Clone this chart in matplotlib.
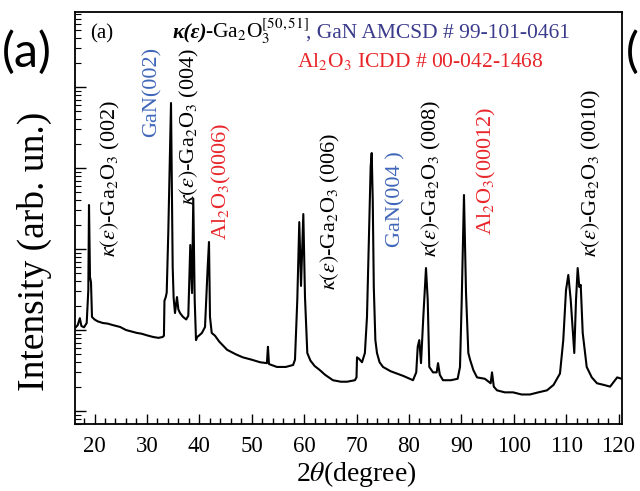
import numpy as np
import matplotlib
matplotlib.use('Agg')
import matplotlib.pyplot as plt
from matplotlib.ticker import MultipleLocator, NullFormatter, LogLocator
from matplotlib.transforms import blended_transform_factory
from matplotlib.offsetbox import TextArea, HPacker, AnnotationBbox

plt.rcParams['font.family'] = ['Liberation Serif', 'DejaVu Serif']
plt.rcParams['mathtext.fontset'] = 'stix'

# XRD scan: 2theta (deg) and intensity (counts, log axis)
two_theta = [16.3, 16.8, 17.2, 17.5, 18.0, 18.51, 18.82, 18.95, 19.05, 19.14, 19.33, 19.52,
             20.0, 20.6, 21.6, 22.5, 23.5, 24.9, 26.0, 27.0, 28.1, 29.0, 30.0, 31.2, 32.2,
             33.0, 33.25, 33.35, 33.6, 33.78, 34.08, 34.41, 34.6, 34.75, 34.92, 35.1, 35.36,
             35.74, 36.0, 36.32, 36.9, 37.5, 37.9, 38.28, 38.61, 38.85, 39.12, 39.37, 39.6,
             40.0, 40.5, 41.09, 41.6, 41.85, 42.04, 42.37, 43.0, 43.8, 45.3, 47.0, 48.3, 50.0,
             51.6, 52.9, 53.1, 53.3, 54.8, 56.5, 57.9, 58.26, 58.7, 59.08, 59.41, 59.85, 60.17,
             60.61, 61.2, 62.0, 63.0, 64.0, 65.5, 67.0, 68.2, 69.7, 70.0, 70.1, 70.5, 71.05,
             71.6, 72.0, 72.4, 72.7, 72.9, 73.1, 73.3, 73.6, 73.91, 74.4, 75.06, 76.5, 77.73,
             79.0, 80.78, 81.4, 81.68, 81.98, 82.31, 82.75, 83.26, 83.59, 83.89, 84.6, 85.3,
             85.56, 85.9, 86.5, 88.0, 89.3, 89.75, 90.08, 90.51, 90.9, 91.34, 91.67, 92.3, 93.0,
             94.5, 95.6, 95.86, 96.2, 96.81, 98.3, 99.87, 101.5, 103.1, 104.7, 106.35, 107.6,
             108.83, 109.46, 109.98, 110.42, 110.88, 111.56, 111.89, 112.21, 112.52, 112.79,
             113.17, 113.93, 114.9, 115.9, 117.2, 118.4, 119.75, 120.6]
intensity = [106, 115, 140, 112, 108, 122, 313, 3490, 1200, 450, 390, 145,
             135, 128, 122, 120, 115, 109, 100, 96, 92, 90, 86, 82, 80,
             82, 85, 230, 255, 290, 1580, 16700, 63400, 8000, 600, 250, 162,
             255, 180, 162, 145, 135, 150, 1120, 286, 4200, 235, 75, 82,
             86, 92, 109, 600, 1220, 145, 92, 85, 72, 57, 50, 46, 43,
             40, 39, 62, 38, 35, 35, 37, 43, 235, 2150, 350, 2700, 255,
             52, 42, 36, 32, 28, 24, 23, 23, 24, 26, 46, 44, 40,
             52, 145, 1580, 10300, 15300, 4000, 340, 75, 52, 40, 35, 31, 29,
             27, 24, 30, 62, 75, 39, 145, 582, 235, 35, 30, 30,
             39, 28, 24, 24, 25, 35, 235, 4640, 286, 52, 43, 32, 26,
             25, 22, 30, 20, 18, 17, 17, 16, 16, 17, 18, 21,
             29, 75, 310, 478, 235, 52, 235, 582, 340, 360,
             92, 35, 26, 22, 21, 20, 26, 25]

# peak labels: text, 2theta of label centre, axes-fraction of label bottom, colour
kappa = r'$\kappa(\varepsilon)$-Ga$_2$O$_3$'
peak_labels = [kappa + ' (002)', 'GaN(002)', kappa + ' (004)', 'Al$_2$O$_3$(0006)',
               kappa + ' (006)', 'GaN(004 )', kappa + ' (008)', 'Al$_2$O$_3$(00012)',
               kappa + ' (0010)']
label_x = [22.96, 30.97, 38.2, 44.14, 64.94, 77.5, 84.4, 94.9, 114.75]
label_y = [0.405, 0.697, 0.532, 0.447, 0.325, 0.43, 0.405, 0.459, 0.405]
label_colors = ['black', '#3f66b8', 'black', '#e8262a', 'black', '#3f66b8', 'black',
                '#e8262a', 'black']

fig = plt.figure(figsize=(6.4, 4.91), dpi=100)
ax = fig.add_axes([0.1172, 0.1365, 0.8547, 0.8391])

ax.plot(two_theta, intensity, color='black', lw=1.5)

ax.set_yscale('log')
ax.set_xlim(16.28, 120.67)
ax.set_ylim(10**0.84, 10**5.926)
ax.xaxis.set_major_locator(MultipleLocator(10))
ax.xaxis.set_minor_locator(MultipleLocator(2))
ax.set_xticks(range(20, 121, 10))
ax.yaxis.set_major_locator(LogLocator(base=10, numticks=20))
ax.yaxis.set_minor_locator(LogLocator(base=10, subs=np.arange(2, 10), numticks=20))
ax.yaxis.set_major_formatter(NullFormatter())
ax.yaxis.set_minor_formatter(NullFormatter())
ax.tick_params(axis='both', which='both', direction='in', top=False, right=False)
ax.tick_params(axis='x', which='major', length=7, width=1, labelsize=16.5, pad=9)
ax.tick_params(axis='x', which='minor', length=4, width=1)
ax.tick_params(axis='y', which='major', length=8, width=1)
ax.tick_params(axis='y', which='minor', length=4.5, width=0.8)
for sp in ax.spines.values():
    sp.set_linewidth(1.3)

ax.set_xlabel(r'2$\theta$(degree)', fontsize=20)
ax.xaxis.set_label_coords(0.514, -0.085)
ax.set_ylabel('Intensity (arb. un.)', fontsize=27)
ax.yaxis.set_label_coords(-0.042, 0.42)

trans = blended_transform_factory(ax.transData, ax.transAxes)
for txt, x, y, c in zip(peak_labels, label_x, label_y, label_colors):
    ax.text(x, y, txt, transform=trans, rotation=90, ha='center', va='bottom',
            color=c, fontsize=16)

# legend-like header inside the frame
ax.text(0.027, 0.935, '(a)', transform=ax.transAxes, fontsize=15, ha='left', va='baseline')
header = HPacker(children=[
    TextArea('κ(ε)', textprops=dict(fontsize=15.5, fontweight='bold', fontstyle='italic',
                                    color='black')),
    TextArea('-Ga$_2$O$_3^{[50,51]}$', textprops=dict(fontsize=15.5, color='black')),
    TextArea(', GaN AMCSD # 99-101-0461', textprops=dict(fontsize=15.5, color='#3b3b8c')),
], align='baseline', pad=0, sep=-2)
ab = AnnotationBbox(header, (173 / 640, 1 - 46 / 491), xycoords='figure fraction',
                    box_alignment=(0, 0), frameon=False, pad=0)
fig.add_artist(ab)
fig.text(297 / 640, 1 - 67 / 491, 'Al$_2$O$_3$ ICDD # 00-042-1468', color='#e8262a',
         fontsize=15.5, ha='left', va='baseline')

# panel letters outside the frame
fig.text(2 / 640, 1 - 52 / 491, '(a)', family='Lato', fontsize=35, ha='left', va='center')
fig.text(626 / 640, 1 - 52 / 491, '(', family='Lato', fontsize=35, ha='left', va='center')

fig.savefig('out.png', dpi=100)
